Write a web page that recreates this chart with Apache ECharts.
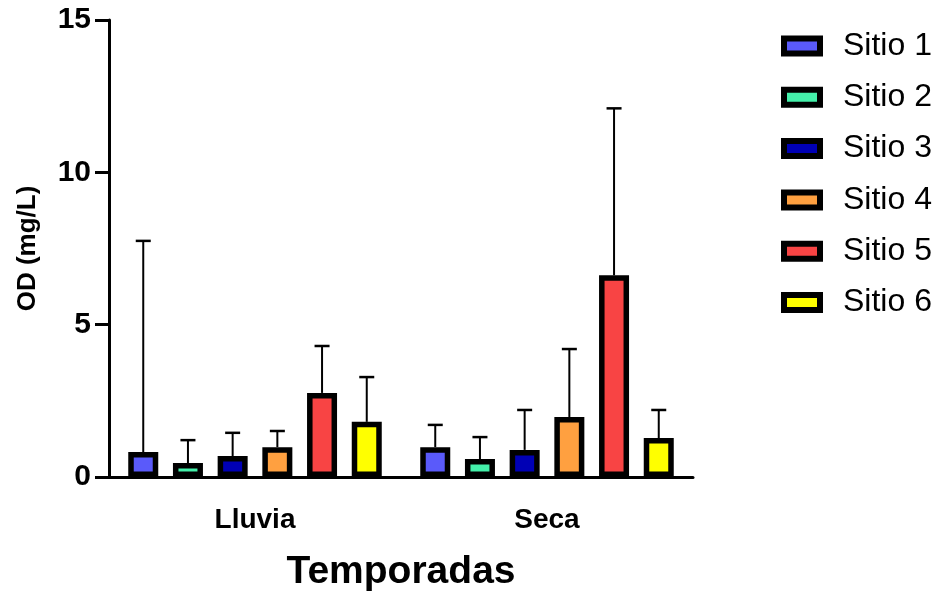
<!DOCTYPE html>
<html>
<head>
<meta charset="utf-8">
<script src="https://cdn.jsdelivr.net/npm/echarts@6/dist/echarts.min.js"></script>
<style>
  html, body { margin: 0; padding: 0; background: #fff; }
  #main { width: 936px; height: 594px; }
</style>
</head>
<body>
<div id="main"></div>
<script>
var categories = ['Lluvia', 'Seca'];
var sites = ['Sitio 1', 'Sitio 2', 'Sitio 3', 'Sitio 4', 'Sitio 5', 'Sitio 6'];
var colors = ['#5A5AFA', '#44F0AA', '#0000B5', '#FFA040', '#F84444', '#FFFF00'];

// mean per site: [Lluvia, Seca]
var sitio1 = [0.82, 0.98];
var sitio2 = [0.46, 0.59];
var sitio3 = [0.69, 0.89];
var sitio4 = [0.98, 1.97];
var sitio5 = [2.76, 6.62];
var sitio6 = [1.81, 1.28];
// top of the error bar (mean + SD)
var top1 = [7.75, 1.71];
var top2 = [1.21, 1.31];
var top3 = [1.45, 2.2];
var top4 = [1.51, 4.2];
var top5 = [4.3, 12.1];
var top6 = [3.28, 2.2];

var yTicks = [0, 5, 10, 15];

var means = [sitio1, sitio2, sitio3, sitio4, sitio5, sitio6];
var tops = [top1, top2, top3, top4, top5, top6];

var barWidth = 30;
var barGap = 0.49;
var pitch = barWidth * (1 + barGap);

var myChart = echarts.init(document.getElementById('main'));

var series = [];
sites.forEach(function (name, i) {
    series.push({
        name: name,
        type: 'bar',
        barWidth: barWidth,
        barGap: (barGap * 100) + '%',
        z: 3,
        itemStyle: { color: colors[i], borderColor: '#000', borderWidth: 5.5 },
        data: means[i]
    });
});
// error bars (upper only), placed over each bar
sites.forEach(function (name, i) {
    var offset = (i - (sites.length - 1) / 2) * pitch;
    series.push({
        name: name + ' SD',
        type: 'custom',
        z: 2,
        encode: { x: 0, y: [1, 2] },
        data: categories.map(function (c, j) { return [j, means[i][j], tops[i][j]]; }),
        renderItem: function (params, api) {
            var c = api.coord([api.value(0), api.value(1)]);
            var t = api.coord([api.value(0), api.value(2)]);
            var x = c[0] + offset;
            return {
                type: 'group',
                children: [
                    { type: 'line', shape: { x1: x, y1: c[1], x2: x, y2: t[1] }, style: { stroke: '#000', lineWidth: 2 } },
                    { type: 'line', shape: { x1: x - 7.5, y1: t[1], x2: x + 7.5, y2: t[1] }, style: { stroke: '#000', lineWidth: 2.5 } }
                ]
            };
        }
    });
});

option = {
    animation: false,
    backgroundColor: '#fff',
    grid: { left: 109, right: 243, top: 20, bottom: 117, containLabel: false, outerBoundsMode: 'none' },
    legend: {
        data: sites,
        orient: 'vertical',
        left: 781,
        top: 30,
        padding: 0,
        icon: 'rect',
        itemWidth: 36,
        itemHeight: 15,
        itemGap: 19.3,
        itemStyle: { borderColor: '#000', borderWidth: 6 },
        textStyle: { fontFamily: 'Liberation Sans', fontSize: 32, color: '#000', padding: [0, 0, 0, 18] }
    },
    xAxis: {
        type: 'category',
        data: categories,
        name: 'Temporadas',
        nameLocation: 'middle',
        nameGap: 76,
        nameTextStyle: { fontFamily: 'Liberation Sans', fontWeight: 'bold', fontSize: 39, color: '#000' },
        axisLine: { lineStyle: { color: '#000', width: 3 } },
        axisTick: { alignWithLabel: true, length: 10, lineStyle: { color: '#000', width: 3 } },
        axisLabel: { margin: 29, fontFamily: 'Liberation Sans', fontWeight: 'bold', fontSize: 28, color: '#000' }
    },
    yAxis: {
        type: 'value',
        min: yTicks[0],
        max: yTicks[yTicks.length - 1],
        interval: 5,
        name: 'OD (mg/L)',
        nameLocation: 'middle',
        nameGap: 68,
        nameTextStyle: { fontFamily: 'Liberation Sans', fontWeight: 'bold', fontSize: 26, color: '#000' },
        splitLine: { show: false },
        axisLine: { show: true, lineStyle: { color: '#000', width: 3 } },
        axisTick: { show: true, length: 14, lineStyle: { color: '#000', width: 3 } },
        axisLabel: { margin: 18, fontFamily: 'Liberation Sans', fontWeight: 'bold', fontSize: 30, color: '#000' }
    },
    series: series
};

myChart.setOption(option);
</script>
</body>
</html>
